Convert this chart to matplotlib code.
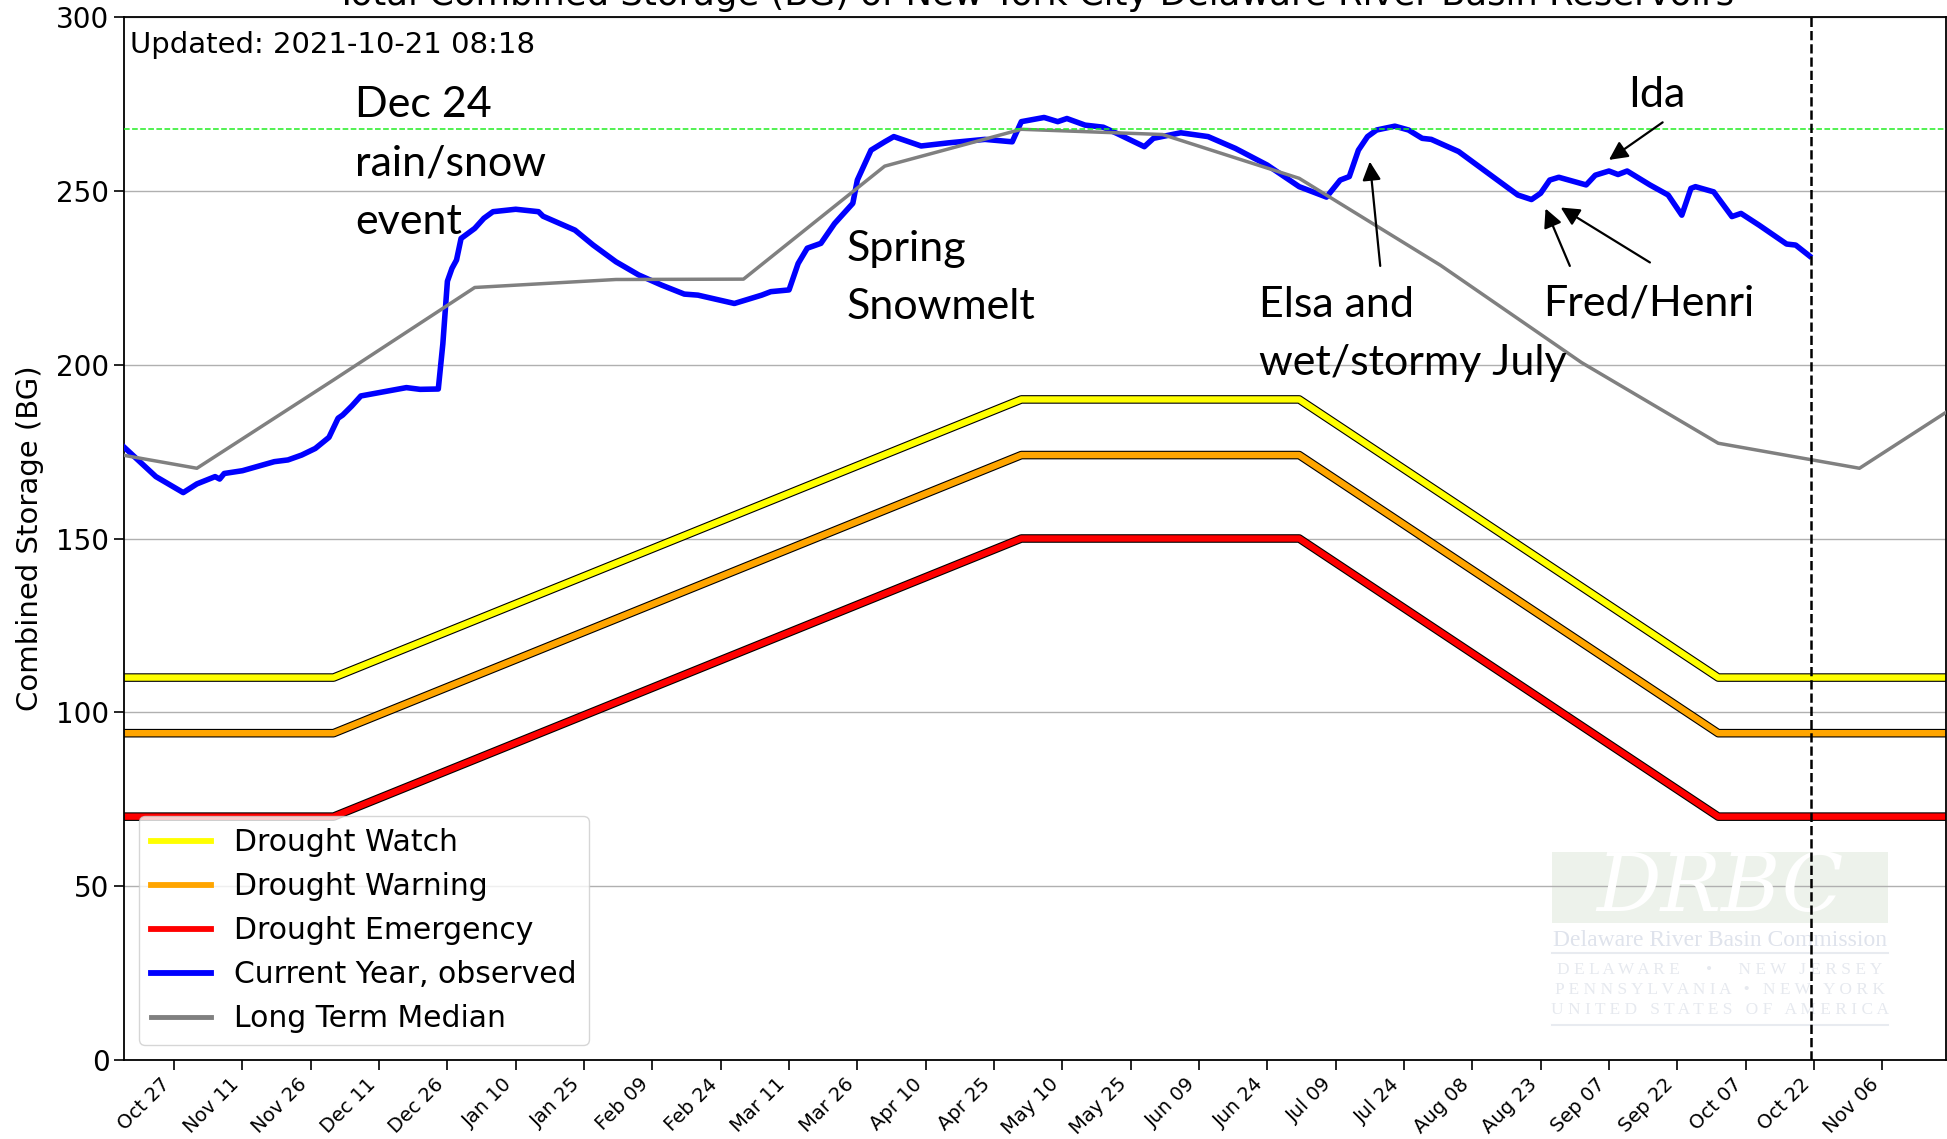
import matplotlib
matplotlib.use("Agg")
import matplotlib.pyplot as plt
import matplotlib.dates as mdates
import pandas as pd
from matplotlib.patches import Rectangle
from matplotlib.lines import Line2D

# observed combined storage (BG)
obs_dates = ["2020-10-16", "2020-10-23", "2020-10-29", "2020-11-01", "2020-11-05", "2020-11-06",
             "2020-11-07", "2020-11-11", "2020-11-18", "2020-11-21", "2020-11-24", "2020-11-27",
             "2020-11-30", "2020-12-02", "2020-12-03", "2020-12-05", "2020-12-07", "2020-12-12",
             "2020-12-17", "2020-12-20", "2020-12-24", "2020-12-25", "2020-12-26", "2020-12-27",
             "2020-12-28", "2020-12-29", "2021-01-01", "2021-01-03", "2021-01-05", "2021-01-10",
             "2021-01-15", "2021-01-16", "2021-01-23", "2021-01-27", "2021-02-01", "2021-02-06",
             "2021-02-11", "2021-02-16", "2021-02-19", "2021-02-27", "2021-03-05", "2021-03-07",
             "2021-03-11", "2021-03-13", "2021-03-15", "2021-03-18", "2021-03-21", "2021-03-25",
             "2021-03-26", "2021-03-29", "2021-04-01", "2021-04-03", "2021-04-09", "2021-04-15",
             "2021-04-23", "2021-04-29", "2021-05-01", "2021-05-06", "2021-05-09", "2021-05-11",
             "2021-05-15", "2021-05-19", "2021-05-22", "2021-05-28", "2021-05-30", "2021-06-05",
             "2021-06-11", "2021-06-17", "2021-06-24", "2021-07-01", "2021-07-07", "2021-07-10",
             "2021-07-12", "2021-07-14", "2021-07-16", "2021-07-18", "2021-07-22", "2021-07-25",
             "2021-07-28", "2021-07-30", "2021-08-05", "2021-08-13", "2021-08-18", "2021-08-21",
             "2021-08-23", "2021-08-25", "2021-08-27", "2021-09-02", "2021-09-04", "2021-09-07",
             "2021-09-09", "2021-09-11", "2021-09-14", "2021-09-16", "2021-09-20", "2021-09-23",
             "2021-09-25", "2021-09-26", "2021-09-30", "2021-10-04", "2021-10-06", "2021-10-10",
             "2021-10-16", "2021-10-18", "2021-10-21"]
obs_bg = [176.3, 167.8, 163.2, 165.7, 167.8, 167.1, 168.7, 169.5, 172.1, 172.6, 174.0, 175.9,
          179.1, 184.6, 185.5, 188.1, 191.0, 192.2, 193.4, 192.9, 193.0, 206.0, 224.0, 227.7,
          230.1, 236.3, 239.2, 242.1, 244.0, 244.7, 244.0, 242.7, 238.7, 234.4, 229.6, 225.8,
          222.9, 220.3, 220.0, 217.6, 220.0, 221.0, 221.5, 229.1, 233.5, 234.9, 240.6, 246.4,
          253.1, 261.7, 264.1, 265.6, 262.9, 263.8, 264.8, 264.1, 269.9, 271.1, 269.9, 270.8,
          268.9, 268.3, 266.5, 262.7, 265.1, 266.7, 265.6, 262.2, 257.4, 251.2, 248.2, 253.1,
          254.1, 261.7, 265.6, 267.5, 268.6, 267.5, 265.1, 264.8, 261.3, 253.6, 248.8, 247.5,
          249.3, 253.1, 253.9, 251.7, 254.5, 255.7, 254.7, 255.7, 253.3, 251.7, 248.8, 243.0,
          250.7, 251.2, 249.7, 242.6, 243.5, 240.1, 234.7, 234.4, 231.3]

# long term median, first of each month
median_dates = ["2020-10-01", "2020-11-01", "2020-12-01", "2021-01-01", "2021-02-01",
                "2021-03-01", "2021-04-01", "2021-05-01", "2021-06-01", "2021-07-01",
                "2021-08-01", "2021-09-01", "2021-10-01", "2021-11-01", "2021-12-01"]
median_bg = [177.4, 170.2, 195.6, 222.2, 224.5, 224.6, 257.1, 267.7, 266.2, 253.6,
             228.6, 200.6, 177.4, 170.2, 195.6]

# drought operating curves
rule_dates = ["2020-10-01", "2020-12-01", "2021-05-01", "2021-07-01", "2021-10-01", "2021-12-01"]
watch = [110, 110, 190, 190, 110, 110]
warning = [94, 94, 174, 174, 94, 94]
emergency = [70, 70, 150, 150, 70, 70]

green_level = 267.7
updated = "2021-10-21 08:18"
tick_dates = pd.date_range("2020-10-27", "2021-11-06", freq="15D")

W, H = 1947, 1139
fig = plt.figure(figsize=(W / 100, H / 100), dpi=100)
ax = fig.add_axes([124 / W, 1 - 1060 / H, (1946 - 124) / W, 1043 / H])

rd = pd.to_datetime(rule_dates)
for vals, col, lab in [(watch, "yellow", "Drought Watch"),
                       (warning, "orange", "Drought Warning"),
                       (emergency, "red", "Drought Emergency")]:
    ax.plot(rd, vals, color="black", lw=6.2, zorder=2)
    ax.plot(rd, vals, color=col, lw=4.6, label=lab, zorder=2.1)

ax.plot(pd.to_datetime(obs_dates), obs_bg, color="blue", lw=4, label="Current Year, observed", zorder=3)
ax.plot(pd.to_datetime(median_dates), median_bg, color="gray", lw=2.5, label="Long Term Median", zorder=3.1)
ax.axhline(green_level, color="#22ee22", lw=1.1, ls="--", zorder=3.2)
ax.axvline(pd.Timestamp(updated), color="black", lw=1.8, ls="--", zorder=3.3)

ax.set_xlim(pd.Timestamp("2020-10-16"), pd.Timestamp("2021-11-20"))
ax.set_ylim(0, 300)
ax.set_yticks(range(0, 301, 50))
ax.yaxis.grid(True, color="#b0b0b0", lw=1)
ax.set_axisbelow(True)
ax.set_xticks(tick_dates)
ax.xaxis.set_major_formatter(mdates.DateFormatter("%b %d"))
plt.setp(ax.get_xticklabels(), rotation=45, ha="right")
ax.tick_params(axis="y", labelsize=20, length=7, width=1.2)
ax.tick_params(axis="x", labelsize=14, length=7, width=1.2)
for s in ax.spines.values():
    s.set_linewidth(1.3)
ax.set_ylabel("Combined Storage (BG)", fontsize=21, labelpad=9)
ax.set_title("Total Combined Storage (BG) of New York City Delaware River Basin Reservoirs",
             fontsize=25.5, pad=8.6)
ax.text(0.0035, 0.987, "Updated: " + updated, transform=ax.transAxes, fontsize=21, va="top")

leg = ax.legend(loc="lower left", bbox_to_anchor=(0.0082, 0.0144), borderaxespad=0, fontsize=21.5)
leg.get_lines()[4].set_linewidth(3.5)
for ln in leg.get_lines()[:4]:
    ln.set_linewidth(4.2)

# storm annotations
note = dict(family="Lato", fontsize=31, va="top", linespacing=1.66, zorder=5)
ax.text(pd.Timestamp("2020-12-05 17:00"), 280.2, "Dec 24\nrain/snow\nevent", **note)
ax.text(pd.Timestamp("2021-03-23 14:00"), 238.8, "Spring\nSnowmelt", **note)
ax.text(pd.Timestamp("2021-06-22 02:00"), 222.7, "Elsa and\nwet/stormy July", **note)
ax.text(pd.Timestamp("2021-08-23 12:00"), 223.1, "Fred/Henri", **note)
ax.text(pd.Timestamp("2021-09-11 07:00"), 283.1, "Ida", **note)

arrow = dict(arrowstyle="-|>", color="black", lw=1.6, mutation_scale=28, shrinkA=0, shrinkB=0)
for head, hv, tail, tv in [("2021-07-16 12:00", 258.4, "2021-07-18 19:00", 228.4),
                           ("2021-09-07 00:00", 258.9, "2021-09-18 19:00", 269.7),
                           ("2021-08-24 02:00", 244.9, "2021-08-29 10:00", 228.4),
                           ("2021-08-27 10:00", 245.2, "2021-09-16 00:00", 229.4)]:
    ax.annotate("", xy=(pd.Timestamp(head), hv), xytext=(pd.Timestamp(tail), tv),
                arrowprops=arrow, zorder=5)

# faint DRBC watermark
ft = fig.transFigure
def fx(px):
    return px / W
def fy(py):
    return 1 - py / H
ax.add_patch(Rectangle((fx(1552), fy(923)), fx(1888) - fx(1552), fy(852) - fy(923), transform=ft,
                       facecolor="#edf2eb", edgecolor="none", zorder=0.5, clip_on=False))
ax.text(fx(1720), fy(889), "DRBC", transform=ft, ha="center", va="center", fontsize=58,
        family="DejaVu Serif", style="italic", color="white", zorder=0.6)
ax.text(fx(1720), fy(940), "Delaware River Basin Commission", transform=ft, ha="center",
        va="center", fontsize=17, family="Liberation Serif", color="#dfe3ec", zorder=0.6)
for py in (953, 1025):
    ax.add_line(Line2D([fx(1552), fx(1888)], [fy(py), fy(py)], transform=ft, color="#e8ebf0",
                       lw=1.5, zorder=0.6))
for py, line in [(970, "D E L A W A R E      \u2022      N E W   J E R S E Y"),
                 (990, "P E N N S Y L V A N I A   \u2022   N E W   Y O R K"),
                 (1010, "U N I T E D   S T A T E S   O F   A M E R I C A")]:
    ax.text(fx(1720), fy(py), line, transform=ft, ha="center", va="center", fontsize=12.5,
            family="Liberation Serif", color="#e6e9ef", zorder=0.6)

fig.savefig("out.png", dpi=100)
